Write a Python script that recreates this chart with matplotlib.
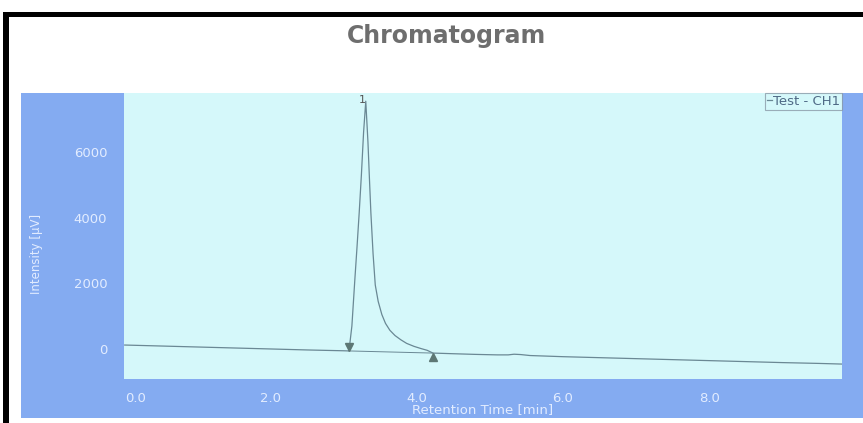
import matplotlib
matplotlib.use("Agg")
import matplotlib.pyplot as plt
from matplotlib.patches import Rectangle
from matplotlib.transforms import offset_copy

# chromatogram trace
time_min = [0.0, 0.5, 1.0, 1.5, 2.0, 2.5, 3.0, 3.07, 3.11, 3.15, 3.18, 3.21,
            3.24, 3.27, 3.30, 3.33, 3.35, 3.37, 3.40, 3.43, 3.47, 3.52, 3.57,
            3.63, 3.70, 3.78, 3.86, 3.96, 4.06, 4.14, 4.22, 4.5, 4.8, 5.1,
            5.25, 5.33, 5.42, 5.55, 6.0, 6.5, 7.0, 7.5, 8.0, 8.5, 9.0, 9.5, 9.82]
intensity_uv = [120, 90, 60, 30, 0, -30, -55, -60, 700, 2100, 3100, 4150,
                5300, 6600, 7550, 6300, 5200, 4150, 2900, 1950, 1450, 1050, 780,
                570, 410, 280, 170, 80, 10, -40, -125, -145, -165, -180,
                -180, -160, -170, -200, -235, -265, -295, -325, -355, -385, -415, -440, -460]

peak_start = [3.07, -60]
peak_end = [4.22, -125]
peak_apex = [3.30, 7550]
peak_name = "1"

x_ticks = [0, 2, 4, 6, 8]
x_tick_labels = ["0.0", "2.0", "4.0", "6.0", "8.0"]
y_ticks = [0, 2000, 4000, 6000]
y_tick_labels = ["0", "2000", "4000", "6000"]

W, H = 863, 423
blue = "#84abf1"
cyan = "#d5f8fa"
pale = "#e2ecff"
trace = "#6a8894"

fig = plt.figure(figsize=(W / 100, H / 100), dpi=100)
fig.patch.set_facecolor("white")

# outer blue panel and black frame lines
fig.add_artist(Rectangle((21 / W, 5 / H), (W - 21) / W, 325 / H,
                         transform=fig.transFigure, facecolor=blue, edgecolor="none", zorder=0))
fig.add_artist(Rectangle((3 / W, 406 / H), (W - 3) / W, 5 / H,
                         transform=fig.transFigure, facecolor="black", edgecolor="none"))
fig.add_artist(Rectangle((3 / W, 0), 6 / W, 411 / H,
                         transform=fig.transFigure, facecolor="black", edgecolor="none"))

fig.text(446 / W, 380 / H, "Chromatogram", ha="center", va="baseline",
         fontsize=17, fontweight="bold", color="#6e6e6e")

ax = fig.add_axes([124 / W, 44 / H, 718 / W, 286 / H])
ax.set_facecolor(cyan)
for s in ax.spines.values():
    s.set_visible(False)

ax.plot(time_min, intensity_uv, color=trace, lw=0.9, label="Test - CH1")
ax.plot([peak_start[0], peak_end[0]], [peak_start[1], peak_end[1]], color=trace, lw=0.7)

down = offset_copy(ax.transData, fig=fig, x=0, y=4, units="dots")
up = offset_copy(ax.transData, fig=fig, x=0, y=-4, units="dots")
ax.plot(peak_start[0], peak_start[1], marker="v", ms=5.5, color="#5d7774",
        transform=down, ls="none")
ax.plot(peak_end[0], peak_end[1], marker="^", ms=5.5, color="#5d7774",
        transform=up, ls="none")
ax.annotate(peak_name, xy=(peak_apex[0], peak_apex[1]), xytext=(0, 1),
            textcoords="offset points", ha="right", va="center",
            fontsize=8, color="#555555")

ax.set_xlim(-0.01, 9.82)
ax.set_ylim(-915, 7800)
ax.set_xticks(x_ticks)
ax.set_xticklabels(x_tick_labels)
ax.set_yticks(y_ticks)
ax.set_yticklabels(y_tick_labels)
ax.tick_params(axis="both", length=0, colors=pale, labelsize=9.5)
ax.tick_params(axis="x", pad=9)
ax.tick_params(axis="y", pad=12)
ax.get_xticklabels()[0].set_horizontalalignment("left")

fig.text(483 / W, 13 / H, "Retention Time [min]", ha="center", va="center",
         fontsize=9.5, color=pale)
fig.text(36 / W, 169 / H, "Intensity [\u00b5V]", ha="center", va="center",
         rotation=90, fontsize=8.5, color=pale)

leg = ax.legend(loc="upper right", borderaxespad=0, handlelength=0.35,
                handletextpad=0.1, borderpad=0.15, fancybox=False,
                fontsize=9.5)
leg.get_frame().set_facecolor("none")
leg.get_frame().set_edgecolor("#8a9aa8")
leg.get_frame().set_linewidth(0.8)
for t in leg.get_texts():
    t.set_color("#4f6a86")

fig.savefig("out.png", dpi=100)
